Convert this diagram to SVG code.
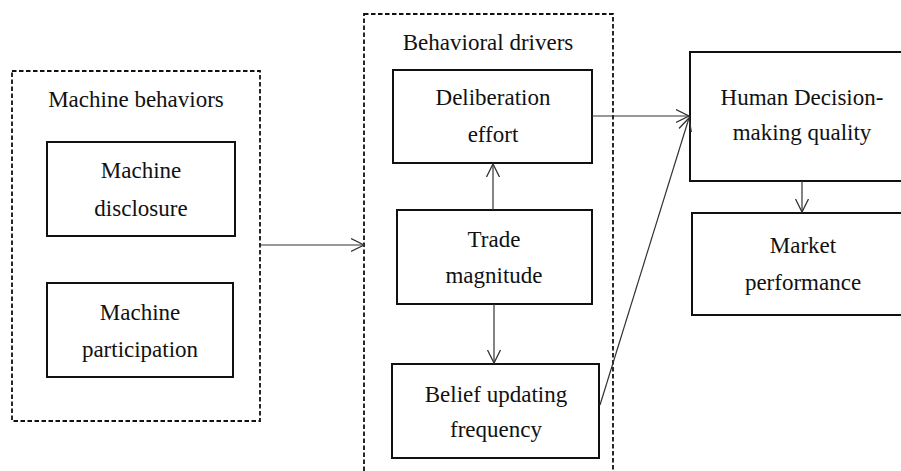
<svg xmlns="http://www.w3.org/2000/svg" width="901" height="471" viewBox="0 0 901 471" font-family="'Liberation Serif', 'DejaVu Serif', serif">
<defs>
<style>
.grp{fill:none;stroke:#111;stroke-width:1.8;stroke-dasharray:4.5 2.5}
.box{fill:#fff;stroke:#111;stroke-width:2}
text{font-family:'Liberation Serif','DejaVu Serif',serif;font-size:23px;fill:#111;text-anchor:middle}
.c{fill:none;stroke:#333;stroke-width:1.2;marker-end:url(#ah)}
</style>
<marker id="ah" markerUnits="userSpaceOnUse" markerWidth="16" markerHeight="16" refX="13" refY="7" orient="auto" viewBox="0 0 16 14">
<path d="M0,0.5 L13,7 L0,13.5" fill="none" stroke="#333" stroke-width="1.3"/>
</marker>
</defs>
<rect width="901" height="471" fill="#fff"/>
<g id="machine-behaviors">
<rect class="grp" x="12" y="71" width="248" height="350"/>
<text x="136" y="107">Machine behaviors</text>
</g>
<g id="behavioral-drivers">
<rect class="grp" x="364" y="14" width="249" height="480"/>
<text x="488" y="50">Behavioral drivers</text>
</g>
<g id="machine-disclosure">
<rect class="box" x="47" y="142" width="188" height="94"/>
<text x="141" y="178">Machine</text>
<text x="141" y="216">disclosure</text>
</g>
<g id="machine-participation">
<rect class="box" x="47" y="283" width="186" height="94"/>
<text x="140" y="320">Machine</text>
<text x="140" y="357">participation</text>
</g>
<g id="deliberation-effort">
<rect class="box" x="393" y="70" width="199" height="93"/>
<text x="493" y="105">Deliberation</text>
<text x="493" y="142">effort</text>
</g>
<g id="trade-magnitude">
<rect class="box" x="397" y="210" width="195" height="94"/>
<text x="494" y="247">Trade</text>
<text x="494" y="283">magnitude</text>
</g>
<g id="belief-updating">
<rect class="box" x="392" y="364" width="207" height="94"/>
<text x="496" y="402">Belief updating</text>
<text x="496" y="437">frequency</text>
</g>
<g id="human-decision">
<rect class="box" x="690" y="52" width="224" height="129"/>
<text x="802" y="105">Human Decision-</text>
<text x="802" y="140">making quality</text>
</g>
<g id="market-performance">
<rect class="box" x="692" y="213" width="222" height="102"/>
<text x="803" y="253">Market</text>
<text x="803" y="290">performance</text>
</g>
<g id="connectors">
<line class="c" x1="261" y1="245" x2="364" y2="245"/>
<line class="c" x1="592" y1="116" x2="689" y2="116"/>
<line class="c" x1="600" y1="405" x2="689" y2="118"/>
<line class="c" x1="493" y1="210" x2="493" y2="164"/>
<line class="c" x1="494" y1="304" x2="494" y2="363"/>
<line class="c" x1="802" y1="181" x2="802" y2="212"/>
</g>
</svg>
